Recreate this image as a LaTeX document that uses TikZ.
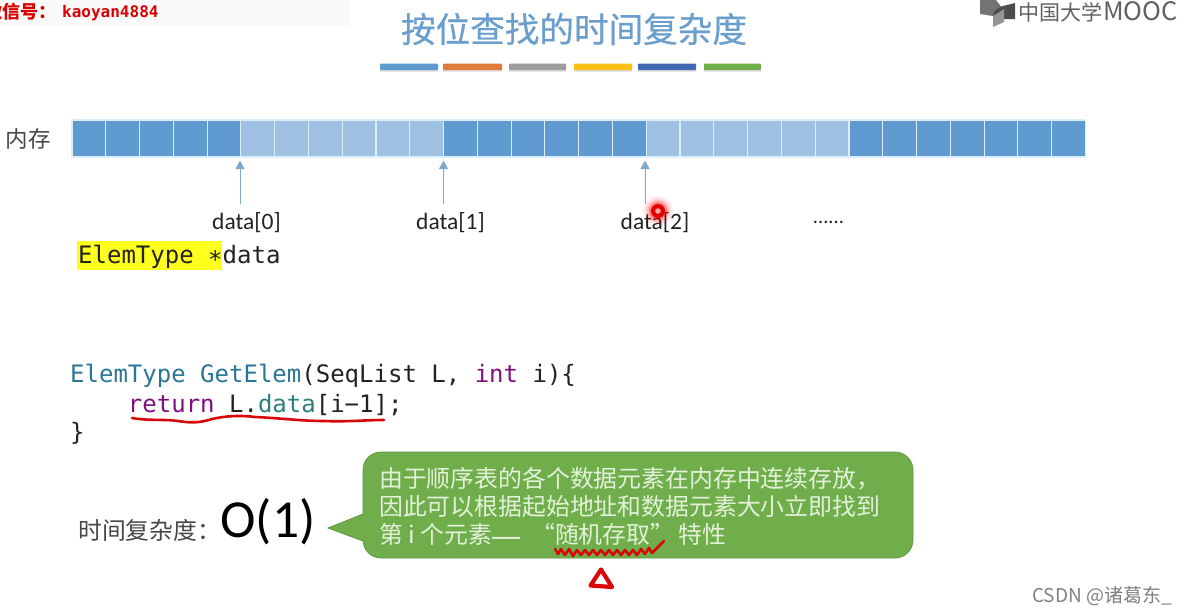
\documentclass[tikz,border=0pt]{standalone}
\usepackage{fontspec}
\setmainfont{Carlito}
\newfontfamily\cjk{Noto Sans CJK SC}
\newfontfamily\cjkb[FakeBold=0.5]{Noto Sans CJK SC}
\newfontfamily\cmono{DejaVu Sans Mono}
\usetikzlibrary{arrows.meta}
\definecolor{cdark}{HTML}{5F9BD0}
\definecolor{clight}{HTML}{9FC1E4}
\definecolor{cedge}{HTML}{DCEEFA}
\definecolor{ctitle}{HTML}{6A9ECC}
\definecolor{carrow}{HTML}{7FA8CE}
\definecolor{cteal}{HTML}{2B7696}
\definecolor{cdata}{HTML}{2E8080}
\definecolor{cpurple}{HTML}{7F0F7F}
\definecolor{cgreen}{HTML}{70AE4C}
\definecolor{cgreenb}{HTML}{5F9A42}
\definecolor{cpale}{HTML}{E4F1DA}
\definecolor{cred}{HTML}{D80808}
\definecolor{hl}{HTML}{FFFF1E}
\definecolor{cblack}{HTML}{222222}
\newcommand{\fs}[1]{\fontsize{#1}{#1}\selectfont}
\tikzset{
  cellbox/.style={draw=cedge,line width=1.1pt,minimum width=33.78pt,minimum height=37pt,inner sep=0pt,outer sep=0pt,anchor=north west},
  darkcell/.style={cellbox,fill=cdark},
  lightcell/.style={cellbox,fill=clight},
  colorbar/.style={minimum height=6.5pt,inner sep=0pt,outer sep=0pt,anchor=north west,rounded corners=0.8pt},
  datalabel/.style={inner sep=0pt,font=\fs{23.5},text=cblack},
  pointer/.style={draw=carrow,line width=1pt,-{Triangle[length=8.5pt,width=9pt]}},
  code/.style={inner sep=0pt,anchor=base west,font=\cmono\fs{24},text=cblack},
  cjktext/.style={inner sep=0pt,anchor=base west,font=\cjk},
  scrawl/.style={draw=cred,line width=2.6pt,line cap=round,line join=round},
}
\begin{document}
\begin{tikzpicture}[x=1pt,y=-1pt]
\useasboundingbox (0,0) rectangle (1188,614);
\fill[white] (0,0) rectangle (1188,614);
% watermark strip
\fill[black!2] (0,0) rectangle (350,26);
\node[cjktext,text=red!85!black,font=\cjk\bfseries\fs{18}] (wm) at (-16,18) {微信号：};
\node[inner sep=0pt,anchor=base west,text=red!85!black,font=\cmono\bfseries\fs{16}] (wmid) at (62,17.5) {kaoyan4884};
% title
\node[inner sep=0pt,text=ctitle,font=\cjkb\fs{34.6}] (title) at (574,29) {按位查找的时间复杂度};
% colored bars
\fill[black!14] (380,66) rectangle (438,71.5) (443,66) rectangle (502,71.5) (509,66) rectangle (566,71.5)
  (574,66) rectangle (632,71.5) (638,66) rectangle (696,71.5) (704,66) rectangle (761,71.5);
\node[colorbar,fill=cdark,minimum width=58pt] (b1) at (380,63.5) {};
\node[colorbar,fill={rgb,255:red,224;green,123;blue,57},minimum width=59pt] (b2) at (443,63.5) {};
\node[colorbar,fill=black!38,minimum width=57pt] (b3) at (509,63.5) {};
\node[colorbar,fill={rgb,255:red,250;green,190;blue,20},minimum width=58pt] (b4) at (574,63.5) {};
\node[colorbar,fill={rgb,255:red,62;green,104;blue,178},minimum width=58pt] (b5) at (638,63.5) {};
\node[colorbar,fill=cgreen,minimum width=57pt] (b6) at (704,63.5) {};
% logo
\fill[black!55] (980,0) -- (980,14) -- (993,16) -- (1003,9) -- (996,0) -- cycle;
\fill[black!70] (993,16) .. controls (994,10) and (998,8) .. (1003,6) -- (1015,3) -- (1015,19) -- (1003,19) -- (993,24) -- cycle;
\fill[black!42] (993,16) -- (993,27) -- (1004,22) -- (1004,9) -- cycle;
\node[inner sep=0pt,anchor=base west,text=black!62,font=\cjk\fs{21}] (logo) at (1018.5,20) {中国大学};
\node[inner sep=0pt,anchor=base west,text=black!62,font=\cjk\fs{25.4}] (logob) at (1103,20.5) {MOOC};
% memory
\node[inner sep=0pt,text=black!72,font=\cjk\fs{22.5}] (mem) at (28,139) {内存};
\foreach \i in {0,...,29}{
  \pgfmathtruncatemacro{\isd}{(\i<5)||(\i>10 && \i<17)||(\i>22)}
  \pgfmathsetmacro{\cx}{72+33.78*\i}
  \ifnum\isd=1
    \node[darkcell] (c\i) at (\cx,120) {};
  \else
    \node[lightcell] (c\i) at (\cx,120) {};
  \fi
}
% labels and pointers
\node[datalabel] (d0) at (246.5,223) {data[0]};
\node[datalabel] (d1) at (450.5,223) {data[1]};
\node[datalabel] (d2) at (655,223) {data[2]};
\node[inner sep=0pt,font=\fs{20.5},text=cblack] (d3) at (828.5,222) {......};
\coordinate (p0) at (240,204);
\coordinate (p1) at (443.5,204);
\coordinate (p2) at (645,204);
\coordinate (t0) at (240,160.5);
\coordinate (t1) at (443.5,160.5);
\coordinate (t2) at (645,160.5);
\draw[pointer] (p0) -- (t0);
\draw[pointer] (p1) -- (t1);
\draw[pointer] (p2) -- (t2);
% highlighted declaration
\fill[hl] (77,241) rectangle (222,269.5);
\node[code] (decl) at (78,263.5) {ElemType ∗data};
% code
\node[code] (l1) at (70,382) {\textcolor{cteal}{ElemType GetElem}(SeqList L, \textcolor{cpurple}{int} i)\{};
\node[code] (l2) at (70,412) {\phantom{....}\textcolor{cpurple}{return} L.\textcolor{cdata}{data}[i−1];};
\node[code] (l3) at (70,440) {\}};
\draw[scrawl] (132,418) .. controls (150,421) and (165,419) .. (178,421) .. controls (190,423) and (200,423) .. (212,419) .. controls (225,416) and (240,415) .. (255,417) .. controls (280,418) and (300,421) .. (325,421) .. controls (345,422) and (365,420) .. (384,420);
% complexity
\node[inner sep=0pt,anchor=base west,text=black!72,font=\cjk\fs{23.8}] (tc) at (78,539) {时间复杂度：};
\node[inner sep=0pt,text=black,font=\fs{53.5}] (o1) at (268,522) {O(1)};
% callout
\draw[draw=cgreenb,fill=cgreen,line width=0.8pt]
  (328,528) -- (363,514) -- (363,470) arc[start angle=180,end angle=270,radius=18] -- (895,452)
  arc[start angle=270,end angle=360,radius=18] -- (913,540)
  arc[start angle=0,end angle=90,radius=18] -- (381,558)
  arc[start angle=90,end angle=180,radius=18] -- (363,541) -- cycle;
\node[cjktext,text=cpale,font=\cjk\fs{23.86}] (t1l) at (379,487.5) {由于顺序表的各个数据元素在内存中连续存放，};
\node[cjktext,text=cpale,font=\cjk\fs{23.86}] (t2l) at (379,515.5) {因此可以根据起始地址和数据元素大小立即找到};
\node[cjktext,text=cpale,font=\cjk\fs{23.86}] (t3l) at (379,543.5) {第 i 个元素{\bfseries\fs{17.5}——} \hspace{4pt}“随机存取”\hspace{4pt}特性};
% red scribbles
\draw[scrawl] (555,549) -- (558,554) -- (561,549) -- (565,555) -- (569,549) -- (573,556) -- (577,550) -- (581,555) -- (585,550) -- (589,555) -- (593,550) -- (597,555) -- (601,550) -- (605,555) -- (609,550) -- (613,555) -- (617,550) -- (621,555) -- (625,550) -- (629,555) -- (633,550) -- (637,555) -- (641,549) -- (645,554) -- (649,548) -- (652,553) -- (658,547) -- (664,541);
\draw[scrawl,line width=4.2pt] (601,569.5) -- (590.5,585.5) -- (612,587) -- cycle;
% laser dot
\foreach \r/\o in {15/0.06,13/0.1,11/0.15,9/0.3}{\fill[red,opacity=\o] (658,211) circle[radius=\r];}
\fill[red!90!black] (658,211) circle[radius=7];
\fill[white!65!red] (658,211) circle[radius=2.8];
% csdn
\node[inner sep=0pt,anchor=base west,text=black!50,font=\cjk\fs{19}] (csdn) at (1032,602) {CSDN @诸葛东\_};
\end{tikzpicture}
\end{document}
